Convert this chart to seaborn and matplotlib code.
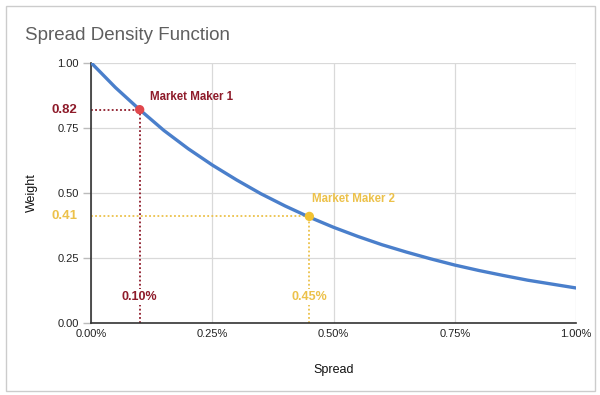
import pandas as pd
import seaborn as sns
import matplotlib.pyplot as plt
from matplotlib.patches import Rectangle
from matplotlib.ticker import FuncFormatter

# Curve values (spread in %, weight)
spread = [0.00, 0.05, 0.10, 0.15, 0.20, 0.25, 0.30, 0.35, 0.40, 0.45, 0.50,
          0.55, 0.60, 0.65, 0.70, 0.75, 0.80, 0.85, 0.90, 0.95, 1.00]
weight = [1.00, 0.905, 0.82, 0.74, 0.67, 0.607, 0.55, 0.497, 0.45, 0.407, 0.368,
          0.333, 0.301, 0.273, 0.247, 0.223, 0.202, 0.183, 0.165, 0.15, 0.135]

makers = ["Market Maker 1", "Market Maker 2"]
maker_spread = [0.10, 0.45]
maker_weight = [0.82, 0.41]
maker_colors = ["#8e1b2a", "#ecc14a"]
dot_colors = ["#e0474c", "#f1c232"]

curve = pd.DataFrame({"spread": spread, "weight": weight})
points = pd.DataFrame({"maker": makers, "spread": maker_spread, "weight": maker_weight})

sns.set_theme(style="whitegrid")
plt.rcParams["font.family"] = ["Liberation Sans", "DejaVu Sans"]

fig = plt.figure(figsize=(6, 3.95), dpi=100)
ax = fig.add_axes([0.152, 0.182, 0.808, 0.659])

# guide lines
for i in range(2):
    ax.plot([0, maker_spread[i]], [maker_weight[i]] * 2, ls=(0, (1, 1.3)), lw=1.3,
            color=maker_colors[i], zorder=2)
    ax.plot([maker_spread[i]] * 2, [0, maker_weight[i]], ls=(0, (1, 1.3)), lw=1.3,
            color=maker_colors[i], zorder=2)

sns.lineplot(data=curve, x="spread", y="weight", color="#4a7fcb", lw=2.4, ax=ax, zorder=3)
sns.scatterplot(data=points, x="spread", y="weight", hue="maker", palette=dot_colors,
                s=45, edgecolor="none", legend=False, ax=ax, zorder=4)

ax.set_xlim(0, 1.0)
ax.set_ylim(0, 1.0)
ax.set_xticks([0, 0.25, 0.5, 0.75, 1.0])
ax.set_yticks([0, 0.25, 0.5, 0.75, 1.0])
ax.xaxis.set_major_formatter(FuncFormatter(lambda v, p: f"{v:.2f}%"))
ax.yaxis.set_major_formatter(FuncFormatter(lambda v, p: f"{v:.2f}"))
ax.tick_params(axis="x", length=0, pad=4, labelsize=8, labelcolor="#222222")
ax.tick_params(axis="y", length=6, width=1, color="#bbbbbb", pad=3, labelsize=8,
               labelcolor="#222222", left=True)
ax.grid(color="#d9d9d9", lw=0.9)
for side in ["top", "right"]:
    ax.spines[side].set_visible(False)
for side in ["left", "bottom"]:
    ax.spines[side].set_color("#333333")
    ax.spines[side].set_linewidth(1.2)

ax.set_xlabel("Spread", fontsize=9, color="#111111", labelpad=18)
ax.set_ylabel("Weight", fontsize=9, color="#111111", labelpad=14)

# annotations
ax.text(0.122, 0.87, makers[0], color=maker_colors[0], fontsize=8.3,
        fontweight="bold", va="center", ha="left")
ax.text(0.455, 0.478, makers[1], color=maker_colors[1], fontsize=8.3,
        fontweight="bold", va="center", ha="left")
for i in range(2):
    ax.text(-0.028, maker_weight[i], f"{maker_weight[i]:.2f}", color=maker_colors[i],
            fontsize=9.5, fontweight="bold", va="center", ha="right",
            transform=ax.get_yaxis_transform(), clip_on=False)
    ax.text(maker_spread[i], 0.1, f"{maker_spread[i]:.2f}%", color=maker_colors[i],
            fontsize=9, fontweight="bold", va="center", ha="center", zorder=5,
            bbox=dict(facecolor="white", edgecolor="none", pad=1.5))

fig.text(0.042, 0.91, "Spread Density Function", fontsize=13.5, color="#5f5f5f",
         va="center", ha="left")
fig.patches.append(Rectangle((0.01, 0.01), 0.982, 0.975, transform=fig.transFigure,
                             fill=False, edgecolor="#cccccc", lw=1))

fig.savefig("out.png", dpi=100)
